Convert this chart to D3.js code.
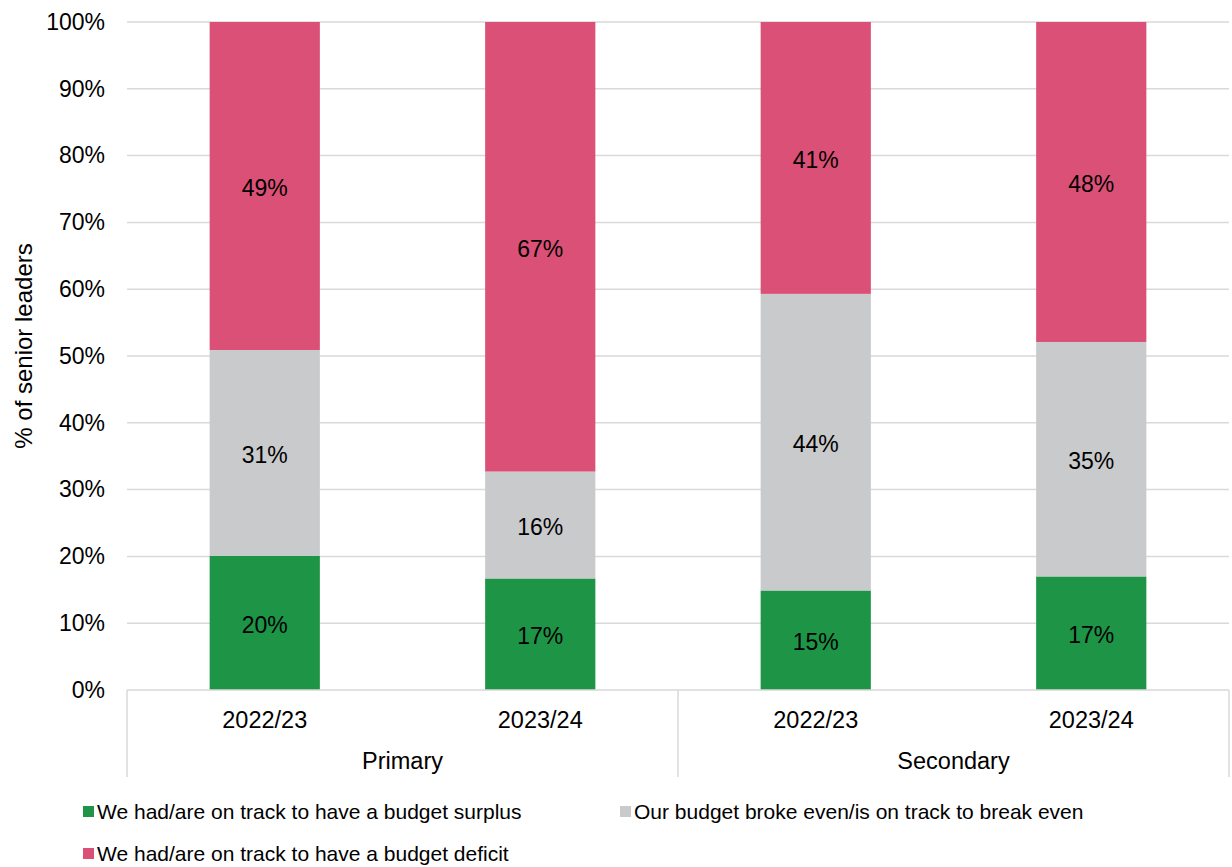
<!DOCTYPE html>
<html>
<head>
<meta charset="utf-8">
<script src="https://cdn.jsdelivr.net/npm/d3@7"></script>
<style>
  body { margin: 0; background: #fff; }
  text { font-family: "Liberation Sans", Arial, sans-serif; fill: #000; }
</style>
</head>
<body>
<div id="chart"></div>
<script>
// data
var groups = ["Primary", "Primary", "Secondary", "Secondary"];
var years = ["2022/23", "2023/24", "2022/23", "2023/24"];
var surplus = [20.1, 16.7, 14.9, 17.0];
var breakEven = [30.8, 16.0, 44.4, 35.1];
var deficit = [49.1, 67.3, 40.7, 47.9];
var seriesNames = ["We had/are on track to have a budget surplus",
                   "Our budget broke even/is on track to break even",
                   "We had/are on track to have a budget deficit"];
var colours = ["#1e9447", "#c9cacc", "#db5076"];
var yTicks = [0, 10, 20, 30, 40, 50, 60, 70, 80, 90, 100];

var W = 1232, H = 867;
var m = {left: 127, right: 3, top: 22, bottom: 177};

var svg = d3.select("#chart").append("svg").attr("width", W).attr("height", H);

var x = d3.scaleBand().domain(d3.range(years.length)).range([m.left, W - m.right]).paddingInner(0).paddingOuter(0);
var y = d3.scaleLinear().domain([0, 100]).range([H - m.bottom, m.top]);
var barW = x.bandwidth() * 0.4;

// gridlines
svg.append("g").selectAll("line").data(yTicks.filter(function(t){ return t > 0; })).enter().append("line")
  .attr("x1", m.left).attr("x2", W - m.right)
  .attr("y1", function(d){ return y(d); }).attr("y2", function(d){ return y(d); })
  .attr("stroke", "#d9d9d9").attr("stroke-width", 1.5);

// y axis labels
var yAxis = d3.axisLeft(y).tickValues(yTicks).tickFormat(function(d){ return d + "%"; }).tickSize(0).tickPadding(22);
var ya = svg.append("g").attr("transform", "translate(" + m.left + ",0)").call(yAxis);
ya.select(".domain").remove();
ya.selectAll("text").style("font-size", "23px").style("font-family", "Liberation Sans, Arial, sans-serif").attr("fill", "#000");

svg.append("text").attr("transform", "translate(32,346) rotate(-90)")
  .attr("text-anchor", "middle").style("font-size", "24px").text("% of senior leaders");

// stacked bars
var rows = years.map(function(yr, i){ return {i: i, v: [surplus[i], breakEven[i], deficit[i]]}; });
var stack = d3.stack().keys([0, 1, 2]).value(function(d, k){ return d.v[k]; });
var layers = stack(rows);

var lg = svg.append("g").selectAll("g").data(layers).enter().append("g")
  .attr("fill", function(d, k){ return colours[k]; });
lg.selectAll("rect").data(function(d){ return d; }).enter().append("rect")
  .attr("x", function(d){ return x(d.data.i) + (x.bandwidth() - barW) / 2; })
  .attr("width", barW)
  .attr("y", function(d){ return y(d[1]); })
  .attr("height", function(d){ return y(d[0]) - y(d[1]); });

lg.selectAll("text").data(function(d){ return d; }).enter().append("text")
  .attr("x", function(d){ return x(d.data.i) + x.bandwidth() / 2; })
  .attr("y", function(d){ return (y(d[0]) + y(d[1])) / 2 + 2; })
  .attr("dy", "0.35em").attr("text-anchor", "middle").style("font-size", "23px")
  .attr("fill", "#000")
  .text(function(d){ return Math.round(d[1] - d[0]) + "%"; });

// x axis: two-level category axis
var base = y(0);
var ax = svg.append("g");
ax.append("line").attr("x1", m.left).attr("x2", W - m.right).attr("y1", base).attr("y2", base)
  .attr("stroke", "#d9d9d9").attr("stroke-width", 1.5);
ax.selectAll("text.yr").data(years).enter().append("text").attr("class", "yr")
  .attr("x", function(d, i){ return x(i) + x.bandwidth() / 2; }).attr("y", base + 38)
  .attr("text-anchor", "middle").style("font-size", "23.5px").text(function(d){ return d; });

var groupNames = Array.from(new Set(groups));
var groupSpan = groupNames.map(function(g){
  var idx = groups.map(function(v, i){ return v === g ? i : -1; }).filter(function(i){ return i >= 0; });
  return {name: g, x0: x(idx[0]), x1: x(idx[idx.length - 1]) + x.bandwidth()};
});
var seps = [groupSpan[0].x0].concat(groupSpan.map(function(g){ return g.x1; }));
ax.selectAll("line.sep").data(seps).enter().append("line").attr("class", "sep")
  .attr("x1", function(d){ return d; }).attr("x2", function(d){ return d; })
  .attr("y1", base).attr("y2", base + 87)
  .attr("stroke", "#d9d9d9").attr("stroke-width", 1.5);
ax.selectAll("text.grp").data(groupSpan).enter().append("text").attr("class", "grp")
  .attr("x", function(d){ return (d.x0 + d.x1) / 2; }).attr("y", base + 79)
  .attr("text-anchor", "middle").style("font-size", "23.5px").text(function(d){ return d.name; });

// legend
var legPos = [[83, 812], [620, 812], [83, 854]];
var leg = svg.append("g").selectAll("g").data(seriesNames).enter().append("g")
  .attr("transform", function(d, i){ return "translate(" + legPos[i][0] + "," + legPos[i][1] + ")"; });
leg.append("rect").attr("x", 0).attr("y", -6).attr("width", 11).attr("height", 11)
  .attr("fill", function(d, i){ return colours[i]; });
leg.append("text").attr("x", 14).attr("y", 0).attr("dy", "0.35em").style("font-size", "21px")
  .text(function(d){ return d; });
</script>
</body>
</html>
